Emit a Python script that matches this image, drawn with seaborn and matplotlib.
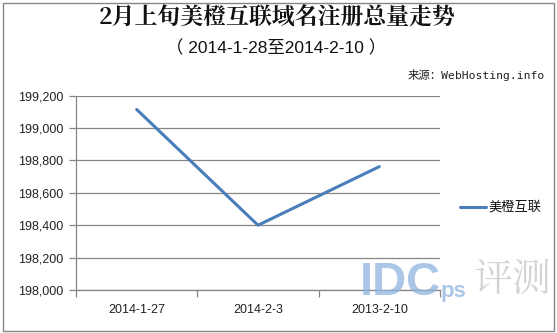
import matplotlib
matplotlib.use("Agg")
import matplotlib.pyplot as plt
import seaborn as sns
import pandas as pd
import numpy as np
from matplotlib.patches import Rectangle

dates = ["2014-1-27", "2014-2-3", "2013-2-10"]
values = [199115, 198400, 198762]
series_name = "美橙互联"
y_ticks = [198000, 198200, 198400, 198600, 198800, 199000, 199200]

sns.set_theme(style="white")
plt.rcParams['font.family'] = ['Liberation Sans', 'Noto Sans CJK SC', 'DejaVu Sans']

df = pd.DataFrame({"date": dates, "value": values, "series": series_name})
df["pos"] = np.arange(len(dates))

fig = plt.figure(figsize=(5.57, 3.33), dpi=100)
ax = fig.add_axes([76/557, 1-290/333, (440-76)/557, (290-95.7)/333])

sns.lineplot(data=df, x="pos", y="value", hue="series", palette=["#4A7EBB"],
             linewidth=2.2, ax=ax, legend=False)

ax.set_xlim(-0.5, len(dates) - 0.5)
ax.set_ylim(y_ticks[0], y_ticks[-1])
ax.set_yticks(y_ticks)
ax.set_yticklabels([f"{v:,}" for v in y_ticks], fontsize=9, color="#222222")
ax.set_xticks(df["pos"])
ax.set_xticklabels(dates, fontsize=9, color="#222222")
ax.set_xticks(np.arange(-0.5, len(dates), 1.0), minor=True)
ax.tick_params(axis="x", which="major", length=0, pad=10)
ax.tick_params(axis="x", which="minor", length=5, width=0.9, color="#868686", direction="out", bottom=True)
ax.tick_params(axis="y", length=5, width=0.9, color="#868686", direction="out", left=True, pad=4)
ax.set_xlabel("")
ax.set_ylabel("")
ax.grid(axis="y", color="#868686", linewidth=0.9)
ax.grid(axis="x", visible=False)
for s in ["top", "right"]:
    ax.spines[s].set_visible(False)
for s in ["left", "bottom"]:
    ax.spines[s].set_color("#868686")
    ax.spines[s].set_linewidth(0.9)

# Titles
fig.text(0.497, 1-18/333, "2月上旬美橙互联域名注册总量走势", ha="center", va="center",
         fontsize=16.5, fontweight="bold", family=['Noto Serif CJK SC', 'Noto Sans CJK SC'], color="#111111")
fig.text(0.496, 1-48/333, "（ 2014-1-28至2014-2-10 ）", ha="center", va="center",
         fontsize=12.5, family=['Liberation Sans', 'Noto Sans CJK SC'], color="#111111")
fig.text(545/557, 1-75/333, "来源：WebHosting.info", ha="right", va="center",
         fontsize=8.2, family=['DejaVu Sans Mono', 'Noto Sans CJK SC'], color="#222222")

# Legend
fig.lines.append(plt.Line2D([460/557, 486/557], [1-207/333, 1-207/333], transform=fig.transFigure,
                            color="#4A7EBB", linewidth=2.2))
fig.text(488/557, 1-207/333, series_name, ha="left", va="center", fontsize=9.5,
         family=['Noto Sans CJK SC'], color="#111111")

# Watermark
fig.text(360/557, 1-283/333, "IDC", ha="left", va="center", fontsize=34, fontweight="bold",
         color="#8FB4DE", alpha=0.75, family=['Liberation Sans'])
fig.text(441/557, 1-291/333, "ps", ha="left", va="center", fontsize=16, fontweight="bold",
         color="#8FB4DE", alpha=0.75, family=['Liberation Sans'])
fig.text(474/557, 1-280/333, "评测", ha="left", va="center", fontsize=28,
         color="#B8B8B8", alpha=0.6, family=['Noto Serif CJK SC', 'Noto Sans CJK SC'])

# Outer border
fig.patches.append(Rectangle((3/557, 2/333), 551/557, 328/333, transform=fig.transFigure,
                             fill=False, edgecolor="#868686", linewidth=1.0))

fig.savefig("out.png", dpi=100)
